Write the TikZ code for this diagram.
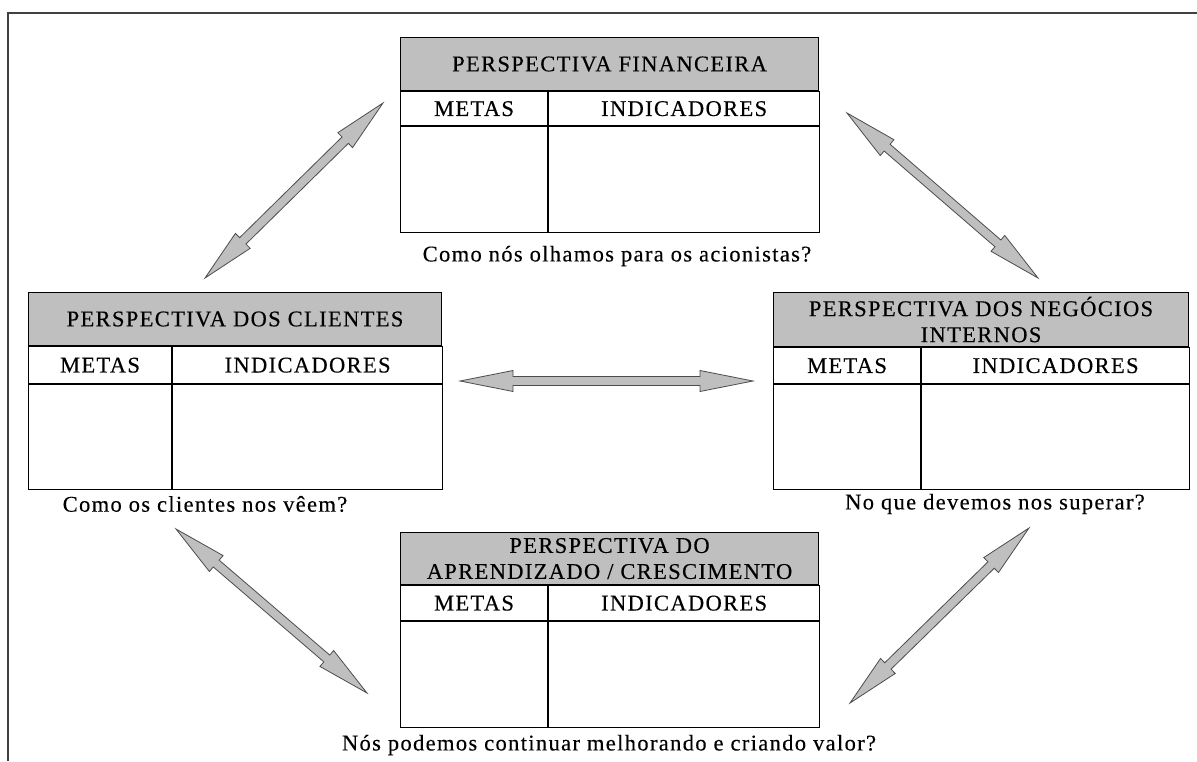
\documentclass[tikz,border=0pt]{standalone}
\usepackage{fontspec}
\setmainfont{Liberation Serif}[LetterSpace=6, FakeBold=0.3]
\usepackage{tikz}
\usetikzlibrary{calc}

\begin{document}
\begin{tikzpicture}[x=1pt, y=-1pt,
    every node/.style={font=\fontsize{22.5}{26}\selectfont, inner sep=0pt},
    head/.style={draw, line width=1.1pt, fill=gray!50, minimum height=53pt, align=center, anchor=north west},
    cell/.style={draw, line width=1.1pt, anchor=north west},
    arrowbody/.style={draw=black!70, fill=gray!50, line width=0.8pt, line join=miter},
    blockarrow/.style={
      to path={
        -- ($(\tikztostart)!53pt!(\tikztotarget)!10.5pt!90:(\tikztotarget)$)
        -- ($(\tikztostart)!53pt!(\tikztotarget)!4.5pt!90:(\tikztotarget)$)
        -- ($(\tikztotarget)!53pt!(\tikztostart)!4.5pt!-90:(\tikztostart)$)
        -- ($(\tikztotarget)!53pt!(\tikztostart)!10.5pt!-90:(\tikztostart)$)
        -- (\tikztotarget)
        -- ($(\tikztotarget)!53pt!(\tikztostart)!10.5pt!90:(\tikztostart)$)
        -- ($(\tikztotarget)!53pt!(\tikztostart)!4.5pt!90:(\tikztostart)$)
        -- ($(\tikztostart)!53pt!(\tikztotarget)!4.5pt!-90:(\tikztotarget)$)
        -- ($(\tikztostart)!53pt!(\tikztotarget)!10.5pt!-90:(\tikztotarget)$)
        -- cycle}}]
    \useasboundingbox (0,0) rectangle (1197,761);

    % Frame along the top and left edges
    \draw[line width=1.6pt, black!75] (8,761) -- (8,13) -- (1197,13);

    % Financial perspective, top
    \node[head, minimum width=418pt] (fin) at (400,37) {PERSPECTIVA FINANCEIRA};
    \node[cell, minimum width=147pt, minimum height=34pt] (finm) at (fin.south west) {METAS};
    \node[cell, minimum width=271pt, minimum height=34pt] (fini) at (finm.north east) {INDICADORES};
    \node[cell, minimum width=147pt, minimum height=106pt] (finmb) at (finm.south west) {};
    \node[cell, minimum width=271pt, minimum height=106pt] (finib) at (fini.south west) {};
    \node (finq) at (617,256) {Como nós olhamos para os acionistas?};

    % Customer perspective, left
    \node[head, minimum width=413pt] (cli) at (28,292) {PERSPECTIVA DOS CLIENTES};
    \node[cell, minimum width=143pt, minimum height=37pt] (clim) at (cli.south west) {METAS};
    \node[cell, minimum width=270pt, minimum height=37pt] (clii) at (clim.north east) {INDICADORES};
    \node[cell, minimum width=143pt, minimum height=105pt] (climb) at (clim.south west) {};
    \node[cell, minimum width=270pt, minimum height=105pt] (cliib) at (clii.south west) {};
    \node (cliq) at (205,504) {Como os clientes nos vêem?};

    % Internal business perspective, right
    \node[head, minimum width=415pt, minimum height=54pt] (neg) at (773,292) {PERSPECTIVA DOS NEGÓCIOS\\INTERNOS};
    \node[cell, minimum width=147pt, minimum height=36pt] (negm) at (neg.south west) {METAS};
    \node[cell, minimum width=268pt, minimum height=36pt] (negi) at (negm.north east) {INDICADORES};
    \node[cell, minimum width=147pt, minimum height=105pt] (negmb) at (negm.south west) {};
    \node[cell, minimum width=268pt, minimum height=105pt] (negib) at (negi.south west) {};
    \node (negq) at (995,504) {No que devemos nos superar?};

    % Learning and growth perspective, bottom
    \node[head, minimum width=418pt, minimum height=52pt] (apr) at (400,532) {PERSPECTIVA DO\\APRENDIZADO / CRESCIMENTO};
    \node[cell, minimum width=147pt, minimum height=35pt] (aprm) at (apr.south west) {METAS};
    \node[cell, minimum width=271pt, minimum height=35pt] (apri) at (aprm.north east) {INDICADORES};
    \node[cell, minimum width=147pt, minimum height=106pt] (aprmb) at (aprm.south west) {};
    \node[cell, minimum width=271pt, minimum height=106pt] (aprib) at (apri.south west) {};
    \node (aprq) at (609,745) {Nós podemos continuar melhorando e criando valor?};

    % End points of the double arrows
    \coordinate (fl) at (205,278);
    \coordinate (fr) at (383,103);
    \coordinate (gl) at (847,113);
    \coordinate (gr) at (1038,278);
    \coordinate (hl) at (460,381);
    \coordinate (hr) at (753,381);
    \coordinate (kl) at (176,529);
    \coordinate (kr) at (367,693);
    \coordinate (ml) at (1029,528);
    \coordinate (mr) at (850,703);

    % Double arrows between the perspectives
    \draw[arrowbody] (fl) to[blockarrow] (fr);
    \draw[arrowbody] (gl) to[blockarrow] (gr);
    \draw[arrowbody] (hl) to[blockarrow] (hr);
    \draw[arrowbody] (kl) to[blockarrow] (kr);
    \draw[arrowbody] (ml) to[blockarrow] (mr);
\end{tikzpicture}
\end{document}
